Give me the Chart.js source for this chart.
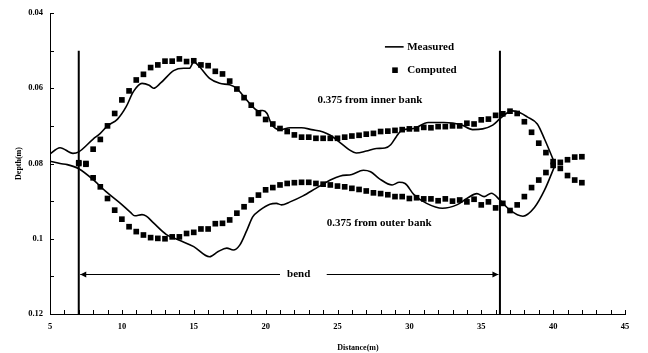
<!DOCTYPE html>
<html>
<head>
<meta charset="utf-8">
<script src="https://cdn.jsdelivr.net/npm/chart.js@4/dist/chart.umd.min.js"></script>
<style>
  html, body { margin: 0; padding: 0; background: #fff; }
  #wrap { width: 648px; height: 353px; }
</style>
</head>
<body>
<div id="wrap"><canvas id="c" width="648" height="353"></canvas></div>
<script>
// Axis ticks
const xTicks = [5, 10, 15, 20, 25, 30, 35, 40, 45];
const yTicks = [0.04, 0.06, 0.08, 0.10, 0.12];
const yTickLabels = ['0.04', '0.06', '0.08', '0.1', '0.12'];

// Measured depth, 0.375 from inner bank
const measuredInnerX = [4.9, 5.7, 6.6, 7.0, 8.0, 8.5, 9.0, 9.7, 10.3, 10.8, 11.4, 11.9, 12.2, 12.7, 13.6, 14.3, 14.7, 15.0, 15.4, 16.1,
  16.8, 17.5, 18.0, 18.4, 19.0, 19.5, 19.8, 20.1, 20.4, 21.0, 21.7, 22.5, 23.2, 24.0, 24.5, 25.2, 25.8, 26.3, 27.0, 27.7,
  28.3, 28.7, 29.1, 29.5, 30.3, 31.3, 32.4, 33.6, 34.4, 35.1, 35.8, 36.3, 36.9, 37.2, 37.7, 38.2, 38.9, 39.4, 40.15];
const measuredInnerY = [0.0778, 0.0758, 0.0773, 0.0769, 0.0735, 0.0720, 0.0700, 0.0682, 0.0649, 0.0609, 0.0587, 0.0592, 0.0600, 0.0586, 0.0553, 0.0547, 0.0547, 0.0530, 0.0543, 0.0574,
  0.0587, 0.0591, 0.0601, 0.0618, 0.0645, 0.0660, 0.0659, 0.0667, 0.0695, 0.0710, 0.0705, 0.0705, 0.0710, 0.0716, 0.0725, 0.0745, 0.0763, 0.0772, 0.0767, 0.0760,
  0.0759, 0.0750, 0.0728, 0.0711, 0.0707, 0.0691, 0.0691, 0.0697, 0.0710, 0.0708, 0.0698, 0.0681, 0.0663, 0.0660, 0.0665, 0.0676, 0.0695, 0.0735, 0.0803];

// Measured depth, 0.375 from outer bank
const measuredOuterX = [4.9, 5.7, 6.2, 7.0, 8.0, 8.9, 9.9, 10.6, 10.9, 11.4, 11.7, 12.2, 13.1, 14.0, 15.0, 16.1, 16.7, 17.3, 17.75, 18.2,
  18.7, 19.1, 19.6, 20.3, 20.75, 21.1, 21.7, 22.6, 23.5, 24.5, 25.2, 26.0, 26.8, 27.3, 27.9, 28.8, 29.3, 29.7, 30.3, 31.2,
  32.3, 33.3, 34.0, 34.7, 35.2, 35.7, 36.3, 37.0, 37.9, 38.7, 39.4, 40.15];
const measuredOuterY = [0.0793, 0.0800, 0.0803, 0.0814, 0.0843, 0.0875, 0.0906, 0.0930, 0.0939, 0.0936, 0.0940, 0.0958, 0.0989, 0.1004, 0.1021, 0.1048, 0.1034, 0.1025, 0.1030, 0.1017,
  0.0977, 0.0942, 0.0924, 0.0908, 0.0906, 0.0910, 0.0902, 0.0886, 0.0866, 0.0844, 0.0833, 0.0829, 0.0818, 0.0822, 0.0840, 0.0857, 0.0850, 0.0853, 0.0882, 0.0906,
  0.0919, 0.0910, 0.0893, 0.0880, 0.0888, 0.0879, 0.0897, 0.0924, 0.0940, 0.0917, 0.0871, 0.0803];

// Computed stations (m)
const computedX = [7, 7.5, 8, 8.5, 9, 9.5, 10, 10.5, 11, 11.5, 12, 12.5, 13, 13.5, 14, 14.5, 15, 15.5, 16, 16.5,
  17, 17.5, 18, 18.5, 19, 19.5, 20, 20.5, 21, 21.5, 22, 22.5, 23, 23.5, 24, 24.5, 25, 25.5, 26, 26.5,
  27, 27.5, 28, 28.5, 29, 29.5, 30, 30.5, 31, 31.5, 32, 32.5, 33, 33.5, 34, 34.5, 35, 35.5, 36, 36.5,
  37, 37.5, 38, 38.5, 39, 39.5, 40, 40.5, 41, 41.5, 42];

// Computed depth, 0.375 from inner bank
const computedInnerY = [0.0800, 0.0800, 0.0762, 0.0736, 0.0700, 0.0667, 0.0631, 0.0607, 0.0578, 0.0563, 0.0545, 0.0538, 0.0528, 0.0528, 0.0522, 0.0529, 0.0527, 0.0538, 0.0540, 0.0555,
  0.0562, 0.0581, 0.0602, 0.0625, 0.0645, 0.0667, 0.0683, 0.0695, 0.0707, 0.0715, 0.0724, 0.0730, 0.0730, 0.0733, 0.0733, 0.0733, 0.0733, 0.0730, 0.0727, 0.0725,
  0.0722, 0.0720, 0.0715, 0.0714, 0.0712, 0.0710, 0.0708, 0.0708, 0.0704, 0.0705, 0.0702, 0.0702, 0.0700, 0.0700, 0.0693, 0.0695, 0.0684, 0.0682, 0.0672, 0.0668,
  0.0661, 0.0667, 0.0689, 0.0717, 0.0746, 0.0771, 0.0795, 0.0813, 0.0832, 0.0844, 0.0851];

// Computed depth, 0.375 from outer bank
const computedOuterY = [0.0798, 0.0802, 0.0838, 0.0862, 0.0893, 0.0924, 0.0948, 0.0968, 0.0981, 0.0990, 0.0997, 0.0999, 0.1000, 0.0995, 0.0995, 0.0986, 0.0983, 0.0974, 0.0974, 0.0960,
  0.0959, 0.0950, 0.0932, 0.0915, 0.0897, 0.0884, 0.0870, 0.0864, 0.0857, 0.0853, 0.0851, 0.0850, 0.0850, 0.0853, 0.0855, 0.0857, 0.0860, 0.0862, 0.0866, 0.0869,
  0.0873, 0.0878, 0.0880, 0.0883, 0.0888, 0.0888, 0.0893, 0.0891, 0.0894, 0.0894, 0.0899, 0.0894, 0.0900, 0.0897, 0.0902, 0.0895, 0.0910, 0.0902, 0.0918, 0.0906,
  0.0925, 0.0910, 0.0888, 0.0864, 0.0844, 0.0824, 0.0805, 0.0797, 0.0790, 0.0783, 0.0782];

// Bend limits (m) and the depth where the bend markers start
const bendLimits = [7, 36.3];
const bendMarkerTop = 0.05;
const bendArrowDepth = 0.1095;

const pts = (xs, ys) => xs.map((v, i) => ({ x: v, y: ys[i] }));

const SERIF = '"Liberation Serif", "Times New Roman", serif';

const decor = {
  id: 'decor',
  afterDraw(chart) {
    const { ctx, chartArea: a, scales: { x, y } } = chart;
    ctx.save();
    ctx.strokeStyle = '#000';
    ctx.fillStyle = '#000';

    // inward tick marks (major and minor)
    ctx.lineWidth = 1;
    ctx.beginPath();
    for (let v = x.min; v <= x.max + 1e-9; v += 1) {
      const px = Math.round(x.getPixelForValue(v)) + 0.5;
      ctx.moveTo(px, a.bottom);
      ctx.lineTo(px, a.bottom - 4);
    }
    for (let k = 0; k <= 8; k++) {
      const py = Math.round(y.getPixelForValue(y.min + k * 0.01)) + 0.5;
      ctx.moveTo(a.left, py);
      ctx.lineTo(a.left + 4, py);
    }
    ctx.stroke();

    // bend limits
    ctx.lineWidth = 2;
    const yTop = y.getPixelForValue(bendMarkerTop);
    bendLimits.forEach(v => {
      const px = x.getPixelForValue(v);
      ctx.beginPath();
      ctx.moveTo(px, yTop);
      ctx.lineTo(px, a.bottom);
      ctx.stroke();
    });

    // double arrow with "bend"
    const ay = Math.round(y.getPixelForValue(bendArrowDepth)) + 0.5;
    const xl = x.getPixelForValue(bendLimits[0]) + 1.5;
    const xr = x.getPixelForValue(bendLimits[1]) - 1.5;
    ctx.lineWidth = 1;
    ctx.beginPath();
    ctx.moveTo(xl, ay); ctx.lineTo(x.getPixelForValue(21.0), ay);
    ctx.moveTo(x.getPixelForValue(24.25), ay); ctx.lineTo(xr, ay);
    ctx.stroke();
    ctx.beginPath();
    ctx.moveTo(xl, ay); ctx.lineTo(xl + 6, ay - 3); ctx.lineTo(xl + 6, ay + 3); ctx.closePath();
    ctx.moveTo(xr, ay); ctx.lineTo(xr - 6, ay - 3); ctx.lineTo(xr - 6, ay + 3); ctx.closePath();
    ctx.fill();

    ctx.font = 'bold 11px ' + SERIF;
    ctx.textAlign = 'center';
    ctx.textBaseline = 'middle';
    ctx.fillText('bend', x.getPixelForValue(22.3), ay);
    ctx.fillText('0.375 from inner bank', x.getPixelForValue(27.26), y.getPixelForValue(0.0631));
    ctx.fillText('0.375 from outer bank', x.getPixelForValue(27.9), y.getPixelForValue(0.0959));

    // legend
    const ly1 = y.getPixelForValue(0.0490);
    const ly2 = y.getPixelForValue(0.0552);
    ctx.lineWidth = 1.6;
    ctx.beginPath();
    ctx.moveTo(x.getPixelForValue(28.3), ly1);
    ctx.lineTo(x.getPixelForValue(29.6), ly1);
    ctx.stroke();
    const sq = x.getPixelForValue(29.0);
    ctx.fillRect(sq - 2.8, ly2 - 2.8, 5.6, 5.6);
    ctx.textAlign = 'left';
    ctx.fillText('Measured', x.getPixelForValue(29.85), ly1);
    ctx.fillText('Computed', x.getPixelForValue(29.85), ly2);

    // axis titles
    ctx.font = 'bold 8px ' + SERIF;
    ctx.textAlign = 'center';
    ctx.fillText('Distance(m)', 358, 348);
    ctx.save();
    ctx.translate(19, (a.top + a.bottom) / 2);
    ctx.rotate(-Math.PI / 2);
    ctx.fillText('Depth(m)', 0, 0);
    ctx.restore();

    ctx.restore();
  }
};

const lineStyle = {
  showLine: true,
  borderColor: '#000',
  borderWidth: 1.6,
  pointRadius: 0,
  cubicInterpolationMode: 'monotone',
  fill: false
};
const pointStyle = {
  showLine: false,
  pointStyle: 'rect',
  pointRadius: 4,
  pointBorderWidth: 0,
  pointBackgroundColor: '#000',
  backgroundColor: '#000',
  borderColor: '#000'
};

new Chart(document.getElementById('c'), {
  type: 'scatter',
  data: {
    datasets: [
      Object.assign({ label: 'Measured', data: pts(measuredInnerX, measuredInnerY) }, lineStyle),
      Object.assign({ label: 'Measured outer', data: pts(measuredOuterX, measuredOuterY) }, lineStyle),
      Object.assign({ label: 'Computed', data: pts(computedX, computedInnerY) }, pointStyle),
      Object.assign({ label: 'Computed outer', data: pts(computedX, computedOuterY) }, pointStyle)
    ]
  },
  options: {
    responsive: false,
    animation: false,
    layout: { padding: { top: 13, right: 23, left: 0, bottom: 0 } },
    plugins: { legend: { display: false }, tooltip: { enabled: false } },
    scales: {
      x: {
        type: 'linear',
        min: 5, max: 45,
        afterBuildTicks: s => { s.ticks = xTicks.map(v => ({ value: v })); },
        afterFit: s => { s.height = 39; },
        grid: { display: false, drawTicks: false },
        border: { display: true, color: '#000', width: 1 },
        ticks: {
          color: '#000',
          padding: 8,
          maxRotation: 0,
          font: { family: SERIF, weight: 'bold', size: 8.5 }
        }
      },
      y: {
        type: 'linear',
        min: 0.04, max: 0.12,
        reverse: true,
        afterBuildTicks: s => { s.ticks = yTicks.map(v => ({ value: v })); },
        afterFit: s => { s.width = 50; },
        grid: { display: false, drawTicks: false },
        border: { display: true, color: '#000', width: 1 },
        ticks: {
          color: '#000',
          padding: 7,
          callback: (v, i) => yTickLabels[i],
          font: { family: SERIF, weight: 'bold', size: 8.5 }
        }
      }
    }
  },
  plugins: [decor]
});
</script>
</body>
</html>
